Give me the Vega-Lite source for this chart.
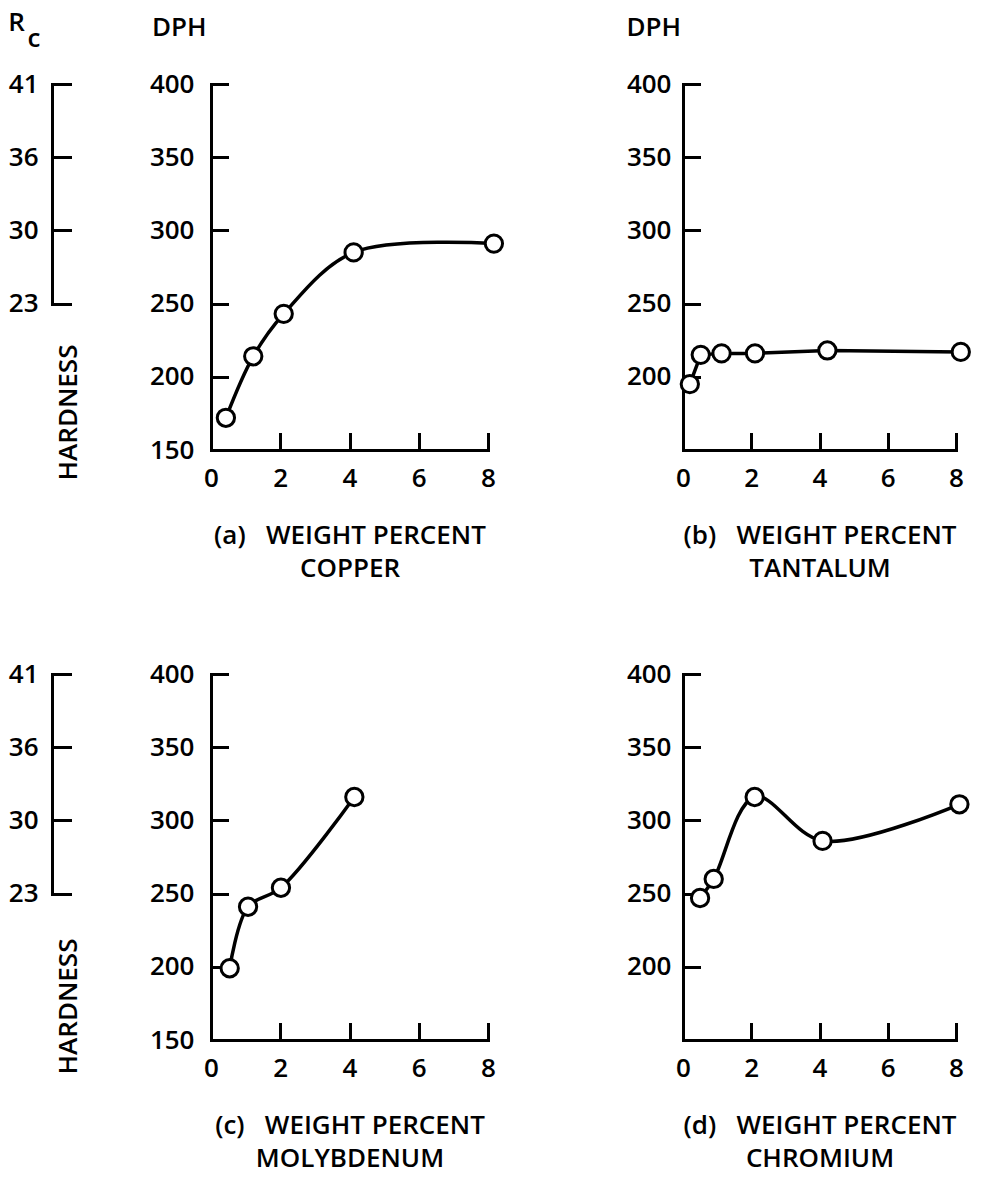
{
  "$schema": "https://vega.github.io/schema/vega-lite/v6.json",
  "background": "white",
  "padding": {"left": 8, "top": 10, "right": 5, "bottom": 5},
  "datasets": {
    "hardness": [
      {"panel": "a", "wt": 0.43, "dph": 172},
      {"panel": "a", "wt": 1.22, "dph": 214},
      {"panel": "a", "wt": 2.1, "dph": 243},
      {"panel": "a", "wt": 4.12, "dph": 285},
      {"panel": "a", "wt": 8.17, "dph": 291},
      {"panel": "b", "wt": 0.2, "dph": 195},
      {"panel": "b", "wt": 0.52, "dph": 215},
      {"panel": "b", "wt": 1.13, "dph": 216},
      {"panel": "b", "wt": 2.11, "dph": 216},
      {"panel": "b", "wt": 4.23, "dph": 218},
      {"panel": "b", "wt": 8.14, "dph": 217},
      {"panel": "c", "wt": 0.54, "dph": 199},
      {"panel": "c", "wt": 1.07, "dph": 241},
      {"panel": "c", "wt": 2.02, "dph": 254},
      {"panel": "c", "wt": 4.14, "dph": 316},
      {"panel": "d", "wt": 0.5, "dph": 247},
      {"panel": "d", "wt": 0.9, "dph": 260},
      {"panel": "d", "wt": 2.1, "dph": 316},
      {"panel": "d", "wt": 4.09, "dph": 286},
      {"panel": "d", "wt": 8.1, "dph": 311}
    ],
    "rc": [
      {"Rc": 41, "dph": 400},
      {"Rc": 36, "dph": 350},
      {"Rc": 30, "dph": 300},
      {"Rc": 23, "dph": 250}
    ]
  },
  "columns": 4,
  "spacing": {"row": 224, "column": 97},
  "bounds": "flush",
  "align": "each",
  "concat": [
    {
      "width": 62, "height": 219.6,
      "title": {"text": "R", "offset": -11},
      "data": {"name": "rc"},
      "mark": {"type": "point", "opacity": 0},
      "encoding": {
        "y": {"field": "dph", "type": "quantitative", "scale": {"domain": [250, 400], "nice": false, "zero": false},
          "axis": {"values": [250, 300, 350, 400], "labelExpr": "datum.value == 400 ? '41' : datum.value == 350 ? '36' : datum.value == 300 ? '30' : '23'", "tickSize": -18, "labelPadding": 32,
            "title": "c", "titleAngle": 0, "titleX": -25, "titleY": -38, "titleAlign": "left", "titleBaseline": "alphabetic"}}
      }
    },
    {
      "width": 277, "height": 366,
      "title": {"text": "DPH", "offset": 30, "frame": "group", "dx": -59},
      "data": {"name": "hardness"},
      "transform": [{"filter": "datum.panel == 'a'"}],
      "encoding": {
        "x": {"field": "wt", "type": "quantitative", "scale": {"domain": [0, 8], "nice": false}, "axis": {"values": [0, 2, 4, 6, 8], "title": ["(a)\u00a0\u00a0\u00a0WEIGHT PERCENT", "COPPER"]}},
        "y": {"field": "dph", "type": "quantitative", "scale": {"domain": [150, 400], "nice": false, "zero": false}, "axis": {"values": [150, 200, 250, 300, 350, 400],
          "title": "HARDNESS", "titleAngle": 270, "titleX": -143, "titleY": 328, "titleAlign": "center", "titleBaseline": "middle"}}
      },
      "layer": [
        {"mark": {"type": "line", "interpolate": "catmull-rom", "color": "black", "strokeWidth": 3.5}},
        {"mark": {"type": "point", "shape": "circle", "filled": true, "fill": "white", "stroke": "black", "strokeWidth": 3, "size": 300, "opacity": 1}}
      ]
    },
    {
      "width": 1, "height": 1,
      "data": {"values": []},
      "mark": "point"
    },
    {
      "width": 273, "height": 366,
      "title": {"text": "DPH", "offset": 30},
      "data": {"name": "hardness"},
      "transform": [{"filter": "datum.panel == 'b'"}],
      "encoding": {
        "x": {"field": "wt", "type": "quantitative", "scale": {"domain": [0, 8], "nice": false}, "axis": {"values": [0, 2, 4, 6, 8], "title": ["(b)\u00a0\u00a0\u00a0WEIGHT PERCENT", "TANTALUM"]}},
        "y": {"field": "dph", "type": "quantitative", "scale": {"domain": [150, 400], "nice": false, "zero": false}, "axis": {"values": [200, 250, 300, 350, 400], "title": null, "labelPadding": 28}}
      },
      "layer": [
        {"mark": {"type": "line", "interpolate": "linear", "color": "black", "strokeWidth": 3.5}},
        {"mark": {"type": "point", "shape": "circle", "filled": true, "fill": "white", "stroke": "black", "strokeWidth": 3, "size": 300, "opacity": 1}}
      ]
    },
    {
      "width": 62, "height": 219.6,
      "data": {"name": "rc"},
      "mark": {"type": "point", "opacity": 0},
      "encoding": {
        "y": {"field": "dph", "type": "quantitative", "scale": {"domain": [250, 400], "nice": false, "zero": false},
          "axis": {"values": [250, 300, 350, 400], "labelExpr": "datum.value == 400 ? '41' : datum.value == 350 ? '36' : datum.value == 300 ? '30' : '23'", "tickSize": -18, "labelPadding": 32, "title": null}}
      }
    },
    {
      "width": 277, "height": 366,
      "data": {"name": "hardness"},
      "transform": [{"filter": "datum.panel == 'c'"}],
      "encoding": {
        "x": {"field": "wt", "type": "quantitative", "scale": {"domain": [0, 8], "nice": false}, "axis": {"values": [0, 2, 4, 6, 8], "title": ["(c)\u00a0\u00a0\u00a0WEIGHT PERCENT", "MOLYBDENUM"]}},
        "y": {"field": "dph", "type": "quantitative", "scale": {"domain": [150, 400], "nice": false, "zero": false}, "axis": {"values": [150, 200, 250, 300, 350, 400],
          "title": "HARDNESS", "titleAngle": 270, "titleX": -143, "titleY": 332, "titleAlign": "center", "titleBaseline": "middle"}}
      },
      "layer": [
        {"mark": {"type": "line", "interpolate": "catmull-rom", "color": "black", "strokeWidth": 3.5}},
        {"mark": {"type": "point", "shape": "circle", "filled": true, "fill": "white", "stroke": "black", "strokeWidth": 3, "size": 300, "opacity": 1}}
      ]
    },
    {
      "width": 1, "height": 1,
      "data": {"values": []},
      "mark": "point"
    },
    {
      "width": 273, "height": 366,
      "data": {"name": "hardness"},
      "transform": [{"filter": "datum.panel == 'd'"}],
      "encoding": {
        "x": {"field": "wt", "type": "quantitative", "scale": {"domain": [0, 8], "nice": false}, "axis": {"values": [0, 2, 4, 6, 8], "title": ["(d)\u00a0\u00a0\u00a0WEIGHT PERCENT", "CHROMIUM"]}},
        "y": {"field": "dph", "type": "quantitative", "scale": {"domain": [150, 400], "nice": false, "zero": false}, "axis": {"values": [200, 250, 300, 350, 400], "title": null, "labelPadding": 28}}
      },
      "layer": [
        {"mark": {"type": "line", "interpolate": "catmull-rom", "color": "black", "strokeWidth": 3.5}},
        {"mark": {"type": "point", "shape": "circle", "filled": true, "fill": "white", "stroke": "black", "strokeWidth": 3, "size": 300, "opacity": 1}}
      ]
    }
  ],
  "config": {
    "view": {"stroke": null},
    "font": "Open Sans",
    "axis": {"domainColor": "black", "domainWidth": 3, "domainCap": "square", "tickColor": "black", "tickWidth": 3, "tickCap": "square",
      "labelColor": "black", "labelFont": "Open Sans", "labelFontSize": 26, "labelFontWeight": 600, "labelFlush": false,
      "titleFont": "Open Sans", "titleFontSize": 26, "titleFontWeight": 600, "titleColor": "black", "grid": false},
    "axisX": {"tickSize": -16, "labelPadding": 31, "labelAngle": 0, "titlePadding": 31, "titleLineHeight": 33},
    "axisY": {"tickSize": -16, "labelPadding": 33},
    "title": {"font": "Open Sans", "fontSize": 26, "fontWeight": 600, "color": "black", "anchor": "start", "frame": "bounds"}
  }
}
